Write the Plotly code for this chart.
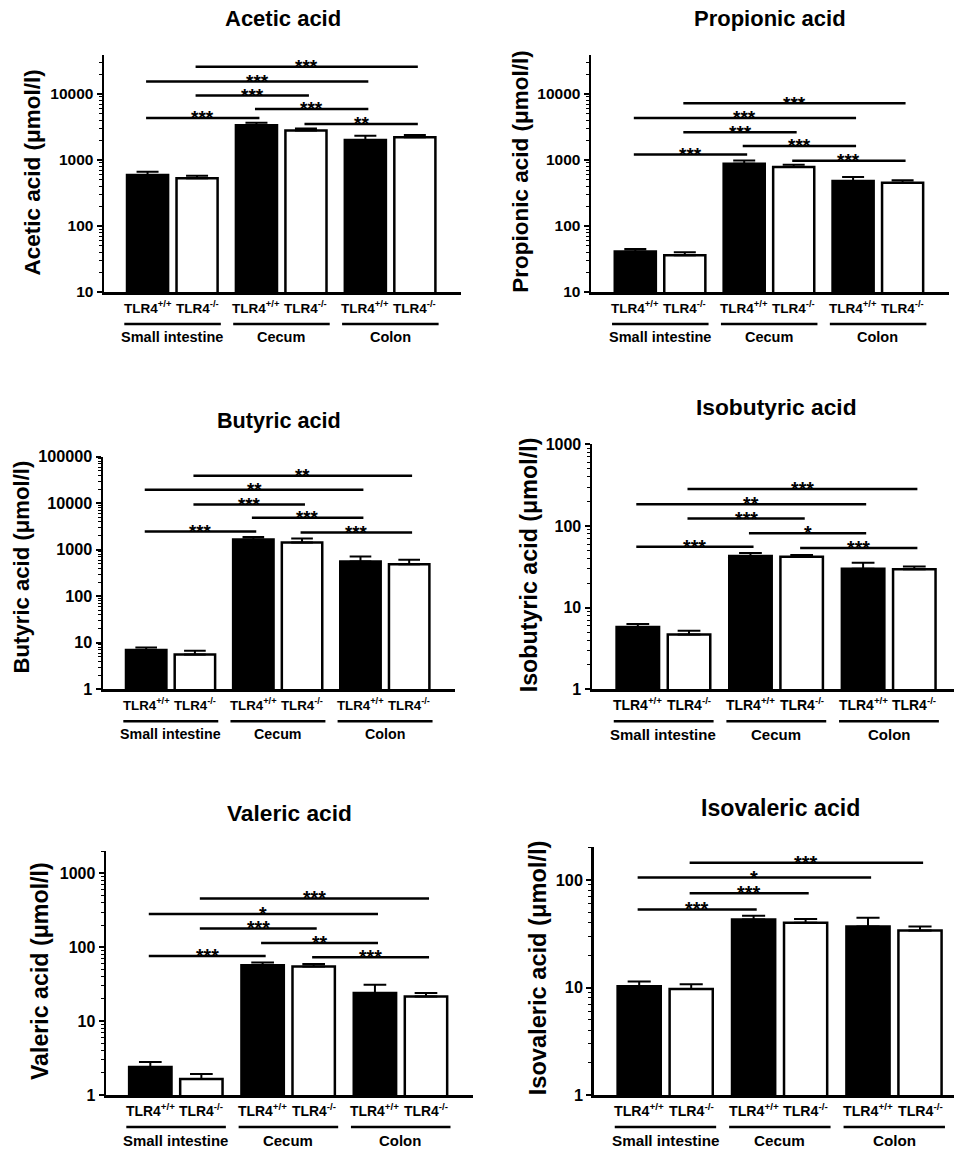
import math
import plotly.graph_objects as go

W, H = 954, 1151
FONT = "Liberation Sans, Arial, sans-serif"

# ---------------- data ----------------
genotype_labels = ["TLR4<sup>+/+</sup>", "TLR4<sup>-/-</sup>"]
region_labels = ["Small intestine", "Cecum", "Colon"]
bar_fill = ["black", "white"]

acetic_mean = [590, 530, 3350, 2800, 2000, 2200]
acetic_sem = [75, 45, 300, 200, 320, 180]
acetic_sig = [(0, 2, 4330, "***"), (2, 4, 5930, "***"), (1, 3, 9440, "***"),
              (0, 4, 15500, "***"), (1, 5, 25900, "***"), (3, 5, 3510, "**")]

propionic_mean = [41, 36, 880, 780, 480, 450]
propionic_sem = [4, 4, 100, 65, 70, 45]
propionic_sig = [(0, 2, 1205, "***"), (2, 4, 1630, "***"), (1, 3, 2625, "***"),
                 (0, 4, 4330, "***"), (1, 5, 7230, "***"), (3, 5, 977, "***")]

butyric_mean = [7.0, 5.6, 1650, 1430, 560, 490]
butyric_sem = [0.9, 1.1, 230, 320, 160, 120]
butyric_sig = [(0, 2, 2480, "***"), (2, 4, 4875, "***"), (1, 3, 9420, "***"),
               (0, 4, 19450, "**"), (1, 5, 38900, "**"), (3, 5, 2355, "***")]

isobutyric_mean = [5.8, 4.7, 43, 42, 30, 29.5]
isobutyric_sem = [0.5, 0.5, 3.5, 2, 5.5, 2.5]
isobutyric_sig = [(0, 2, 55.8, "***"), (2, 4, 81.3, "*"), (1, 3, 123, "***"),
                  (0, 4, 184, "**"), (1, 5, 284, "***"), (3, 5, 53.8, "***")]

valeric_mean = [2.4, 1.65, 57, 55, 24, 21.5]
valeric_sem = [0.4, 0.27, 5, 4.5, 7, 2.5]
valeric_sig = [(0, 2, 76, "***"), (2, 4, 114, "**"), (1, 3, 180, "***"),
               (0, 4, 281, "*"), (1, 5, 458, "***"), (3, 5, 73, "***")]

isovaleric_mean = [10.3, 9.7, 43, 40, 37, 34]
isovaleric_sem = [1.1, 1.0, 3.5, 3.5, 7.5, 3]
isovaleric_sig = [(0, 2, 53.2, "***"), (1, 3, 75.5, "***"),
                  (0, 4, 105.4, "*"), (1, 5, 144.6, "***")]

ticks_10_1e4 = [10, 100, 1000, 10000]
ticks_1_1e5 = [1, 10, 100, 1000, 10000, 100000]
ticks_1_1e3 = [1, 10, 100, 1000]
ticks_1_1e2 = [1, 10, 100]

# ---------------- layout (pixel geometry) ----------------
panels = [
    dict(title="Acetic acid", ytitle="Acetic acid (μmol/l)", mean=acetic_mean, sem=acetic_sem,
         sig=acetic_sig, yticks=ticks_10_1e4, box=(104, 461, 55, 292), xleft=-0.88, ppu=49.5,
         yrange=(1, 4.59), title_xy=(282.5, 19), ytitle_xy=(32, 172.5), tick_fs=15.5),
    dict(title="Propionic acid", ytitle="Propionic acid (μmol/l)", mean=propionic_mean, sem=propionic_sem,
         sig=propionic_sig, yticks=ticks_10_1e4, box=(591, 949, 55, 292), xleft=-0.895, ppu=49.5,
         yrange=(1, 4.59), title_xy=(770, 19), ytitle_xy=(521, 171.7), tick_fs=15.5),
    dict(title="Butyric acid", ytitle="Butyric acid (μmol/l)", mean=butyric_mean, sem=butyric_sem,
         sig=butyric_sig, yticks=ticks_1_1e5, box=(103, 455, 456.7, 689.3), xleft=-0.887, ppu=48.7,
         yrange=(0, 5), title_xy=(279, 421), ytitle_xy=(21.7, 566.7), tick_fs=16.5),
    dict(title="Isobutyric acid", ytitle="Isobutyric acid (μmol/l)", mean=isobutyric_mean, sem=isobutyric_sem,
         sig=isobutyric_sig, yticks=ticks_1_1e3, box=(592, 954, 444.3, 689.3), xleft=-0.895, ppu=51.2,
         yrange=(0, 3), title_xy=(776, 407.3), ytitle_xy=(529.3, 565), tick_fs=15.5),
    dict(title="Valeric acid", ytitle="Valeric acid (μmol/l)", mean=valeric_mean, sem=valeric_sem,
         sig=valeric_sig, yticks=ticks_1_1e3, box=(106, 473, 850.7, 1095), xleft=-0.868, ppu=51.05,
         yrange=(0, 3.307), title_xy=(289.3, 813.3), ytitle_xy=(39.3, 970.8), tick_fs=15.5),
    dict(title="Isovaleric acid", ytitle="Isovaleric acid (μmol/l)", mean=isovaleric_mean, sem=isovaleric_sem,
         sig=isovaleric_sig, yticks=ticks_1_1e2, box=(593.7, 954, 846.7, 1095), xleft=-0.875, ppu=52.0,
         yrange=(0, 2.31), title_xy=(780.3, 808.3), ytitle_xy=(538, 968.3), tick_fs=15.5),
]

GROUP_STEP = 2.2
positions = [g * GROUP_STEP + k for g in range(len(region_labels)) for k in range(len(genotype_labels))]


def px_x(px):
    return px / W


def px_y(py):
    return 1 - py / H


fig = go.Figure()
annotations = []
shapes = []
layout_axes = {}

for idx, p in enumerate(panels):
    n = idx + 1
    xr = "x" if n == 1 else f"x{n}"
    yr = "y" if n == 1 else f"y{n}"
    xa = "xaxis" if n == 1 else f"xaxis{n}"
    ya = "yaxis" if n == 1 else f"yaxis{n}"
    L, R, T, B = p["box"]
    s = p["ppu"] / 49.5
    lo, hi = p["yrange"]
    minor_vals = [m * 10 ** e for e in range(int(math.floor(lo)), int(math.ceil(hi)) + 1)
                  for m in range(2, 10) if lo <= math.log10(m * 10 ** e) <= hi]

    layout_axes[xa] = dict(domain=[px_x(L), px_x(R)], range=[p["xleft"], p["xleft"] + (R - L) / p["ppu"]],
                           anchor=yr, showline=True, linewidth=2.5, linecolor="black", ticks="",
                           showticklabels=False, showgrid=False, zeroline=False, fixedrange=True,
                           automargin=False)
    layout_axes[ya] = dict(domain=[px_y(B), px_y(T)], type="log", range=[lo, hi], anchor=xr,
                           showline=True, linewidth=2.5, linecolor="black", ticks="outside",
                           ticklen=5, tickwidth=2, tickcolor="black", automargin=False,
                           tickmode="array", tickvals=p["yticks"], ticktext=[str(v) for v in p["yticks"]],
                           tickfont=dict(family=FONT, size=p["tick_fs"] * s, color="black", weight="bold"),
                           showgrid=False, zeroline=False, fixedrange=True,
                           minor=dict(tickmode="array", tickvals=minor_vals, ticks="outside",
                                      ticklen=3, tickwidth=1, tickcolor="black", showgrid=False))

    colors = [bar_fill[i % 2] for i in range(len(positions))]
    fig.add_trace(go.Bar(
        x=positions, y=p["mean"], width=0.83, xaxis=xr, yaxis=yr, showlegend=False,
        marker=dict(color=colors, line=dict(color="black", width=2.5)),
        error_y=dict(type="data", symmetric=False, array=p["sem"], arrayminus=[0] * len(p["sem"]),
                     color="black", thickness=2, width=11 * s),
        hoverinfo="skip"))

    # significance brackets
    for a, b, h, lab in p["sig"]:
        fig.add_trace(go.Scatter(x=[positions[a] - 0.03, positions[b] + 0.06], y=[h, h], mode="lines",
                                 line=dict(color="black", width=2.5), xaxis=xr, yaxis=yr,
                                 showlegend=False, hoverinfo="skip"))
        annotations.append(dict(x=(positions[a] + positions[b]) / 2 + 0.015, y=math.log10(h), xref=xr, yref=yr,
                                text=lab, showarrow=False, xanchor="center", yanchor="middle", yshift=0,
                                font=dict(family=FONT, size=19 * s, color="black", weight="bold")))

    # genotype labels, group underlines, region labels
    for i, x in enumerate(positions):
        annotations.append(dict(x=x, y=px_y(B + 15), xref=xr, yref="paper", text=genotype_labels[i % 2],
                                showarrow=False, xanchor="center", yanchor="middle",
                                font=dict(family=FONT, size=13.5 * s, color="black", weight="bold")))
    for g, reg in enumerate(region_labels):
        x0 = positions[2 * g] - 0.47
        x1 = positions[2 * g + 1] + 0.48
        shapes.append(dict(type="line", xref=xr, yref="paper", x0=x0, x1=x1,
                           y0=px_y(B + 32), y1=px_y(B + 32), line=dict(color="black", width=2.5)))
        annotations.append(dict(x=(positions[2 * g] + positions[2 * g + 1]) / 2, y=px_y(B + 45), xref=xr,
                                yref="paper", text=reg, showarrow=False, xanchor="center", yanchor="middle",
                                font=dict(family=FONT, size=14.5 * s, color="black", weight="bold")))

    # panel title and y-axis title
    tx, ty = p["title_xy"]
    annotations.append(dict(x=px_x(tx), y=px_y(ty), xref="paper", yref="paper", text=p["title"],
                            showarrow=False, xanchor="center", yanchor="middle",
                            font=dict(family=FONT, size=22 * s, color="black", weight="bold")))
    yx, yy = p["ytitle_xy"]
    annotations.append(dict(x=px_x(yx), y=px_y(yy), xref="paper", yref="paper", text=p["ytitle"],
                            showarrow=False, xanchor="center", yanchor="middle", textangle=-90,
                            font=dict(family=FONT, size=22.5 * s, color="black", weight="bold")))

fig.update_layout(width=W, height=H, margin=dict(l=0, r=0, t=0, b=0, pad=0, autoexpand=False),
                  template="none", paper_bgcolor="white", plot_bgcolor="white", bargap=0,
                  annotations=annotations, shapes=shapes, **layout_axes)

fig.write_html("out.html", config={"displayModeBar": False, "staticPlot": True},
               post_script="document.body.style.margin='0';document.body.style.overflow='hidden';")
